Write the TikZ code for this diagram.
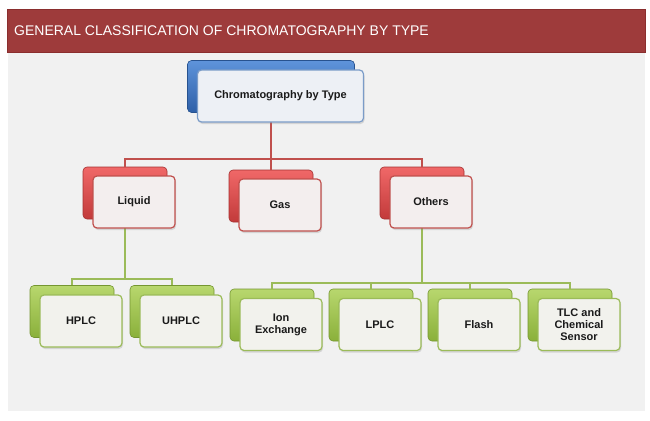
\documentclass[tikz,border=0pt]{standalone}
\usepackage{fontspec}
\setmainfont{Liberation Sans}
\usetikzlibrary{shadows}
\definecolor{Ink}{HTML}{1A1A1A}
\definecolor{Banner}{HTML}{9E3B3B}
\definecolor{BannerEdge}{HTML}{8A2E2E}
\definecolor{Panel}{HTML}{F1F1F1}
\definecolor{RedTop}{HTML}{F06868}
\definecolor{RedBot}{HTML}{C23A3A}
\definecolor{RedLine}{HTML}{C0504D}
\definecolor{RedPaper}{HTML}{F3EEEE}
\definecolor{GreenTop}{HTML}{B8D76E}
\definecolor{GreenBot}{HTML}{8AB03A}
\definecolor{GreenLine}{HTML}{9BBB59}
\definecolor{GreenPaper}{HTML}{F2F2ED}
\definecolor{BlueTop}{HTML}{5E93DA}
\definecolor{BlueBot}{HTML}{2E60A8}
\definecolor{BlueLine}{HTML}{7B9CC8}
\definecolor{BluePaper}{HTML}{EDF0F5}
\tikzset{
  backbox/.style={
    rounded corners=4pt, minimum width=84pt, minimum height=52pt,
    inner sep=0pt, line width=0.6pt
  },
  redback/.style={backbox, draw=RedBot!85!black, top color=RedTop, bottom color=RedBot},
  greenback/.style={backbox, draw=GreenBot!85!black, top color=GreenTop, bottom color=GreenBot},
  blueback/.style={backbox, draw=BlueBot!85!black, top color=BlueTop, bottom color=BlueBot},
  frontbox/.style={
    rounded corners=4pt, line width=1.2pt, minimum width=82pt,
    minimum height=52pt, inner sep=2pt, align=center, text=Ink,
    font=\fontsize{11}{12}\selectfont\bfseries,
    drop shadow={shadow xshift=1pt, shadow yshift=-2pt, opacity=0.25}
  },
  redfront/.style={frontbox, draw=RedLine, fill=RedPaper},
  greenfront/.style={frontbox, draw=GreenLine, fill=GreenPaper},
  bluefront/.style={frontbox, draw=BlueLine, fill=BluePaper},
  redlink/.style={line width=2pt, draw=RedLine},
  greenlink/.style={line width=2pt, draw=GreenLine}
}

\begin{document}
\begin{tikzpicture}[x=1pt,y=-1pt]
    \useasboundingbox (0,0) rectangle (650,420);
    \fill[white] (0,0) rectangle (650,420);
    \fill[Panel] (7.5,52) rectangle (645,411);
    \filldraw[fill=Banner,draw=BannerEdge] (7.5,9) rectangle (645,52);
    \node[anchor=west,text=white,font=\fontsize{14}{16}\selectfont,inner sep=0pt]
      (title) at (14,31) {GENERAL CLASSIFICATION OF CHROMATOGRAPHY BY TYPE};

    % back plates
    \node[blueback,minimum width=167pt] (chromB) at (271,86.5) {};
    \node[redback] (liqB) at (125,193) {};
    \node[redback] (gasB) at (271,196) {};
    \node[redback] (othB) at (422,193) {};
    \node[greenback] (hplcB) at (72,311.5) {};
    \node[greenback] (uhplcB) at (172,311.5) {};
    \node[greenback] (ionB) at (272,315) {};
    \node[greenback] (lplcB) at (371,315) {};
    \node[greenback] (flashB) at (470,315) {};
    \node[greenback] (tlcB) at (570,315) {};

    \coordinate (redbus) at (271,159);
    \coordinate (leftbus) at (125,279);
    \coordinate (rightbus) at (422,283);

    % connectors
    \draw[redlink] (chromB.south) -- (redbus);
    \draw[redlink] (liqB.north) -- (liqB.north |- redbus) -- (othB.north |- redbus) -- (othB.north);
    \draw[redlink] (redbus) -- (gasB.north);
    \draw[greenlink] (liqB.south) -- (leftbus);
    \draw[greenlink] (hplcB.north) -- (hplcB.north |- leftbus) -- (uhplcB.north |- leftbus) -- (uhplcB.north);
    \draw[greenlink] (othB.south) -- (rightbus);
    \draw[greenlink] (ionB.north) -- (ionB.north |- rightbus) -- (tlcB.north |- rightbus) -- (tlcB.north);
    \draw[greenlink] (lplcB.north) -- (lplcB.north |- rightbus);
    \draw[greenlink] (flashB.north) -- (flashB.north |- rightbus);

    % front cards
    \node[bluefront,minimum width=166pt,xshift=9.5pt,yshift=-9.5pt] (chrom) at (chromB) {Chromatography by Type};
    \node[redfront,xshift=9pt,yshift=-9pt] (liq) at (liqB) {Liquid};
    \node[redfront,xshift=9pt,yshift=-9pt] (gas) at (gasB) {Gas};
    \node[redfront,xshift=9pt,yshift=-9pt] (oth) at (othB) {Others};
    \node[greenfront,xshift=9pt,yshift=-9.5pt] (hplc) at (hplcB) {HPLC};
    \node[greenfront,xshift=9pt,yshift=-9.5pt] (uhplc) at (uhplcB) {UHPLC};
    \node[greenfront,xshift=9pt,yshift=-9.5pt] (ion) at (ionB) {Ion\\Exchange};
    \node[greenfront,xshift=9pt,yshift=-9.5pt] (lplc) at (lplcB) {LPLC};
    \node[greenfront,xshift=9pt,yshift=-9.5pt] (flash) at (flashB) {Flash};
    \node[greenfront,xshift=9pt,yshift=-9.5pt] (tlc) at (tlcB) {TLC and\\Chemical\\Sensor};
  \end{tikzpicture}
\end{document}
